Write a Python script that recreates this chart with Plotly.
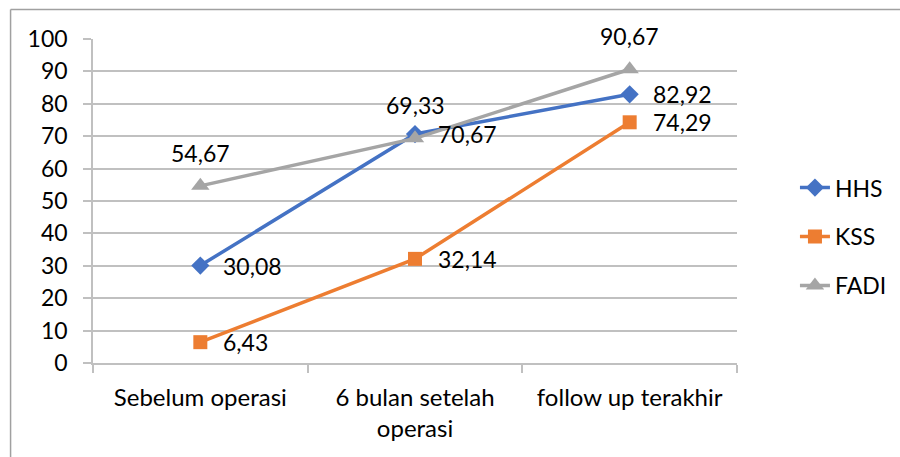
import plotly.graph_objects as go

categories = ["Sebelum operasi", "6 bulan setelah<br>operasi", "follow up terakhir"]
hhs = [30.08, 70.67, 82.92]
kss = [6.43, 32.14, 74.29]
fadi = [54.67, 69.33, 90.67]
hhs_labels = ["30,08", "70,67", "82,92"]
kss_labels = ["6,43", "32,14", "74,29"]
fadi_labels = ["54,67", "69,33", "90,67"]
y_ticks = [0, 10, 20, 30, 40, 50, 60, 70, 80, 90, 100]

FONT = "Lato"
BLUE = "#4472C4"
ORANGE = "#ED7D31"
GREY = "#A5A5A5"
GRID = "#C0C0C0"

fig = go.Figure()
series = [
    ("HHS", hhs, BLUE, "diamond", 14),
    ("KSS", kss, ORANGE, "square", 14),
    ("FADI", fadi, GREY, "triangle-up", 16),
]
for name, vals, color, sym, size in series:
    fig.add_trace(go.Scatter(
        x=categories, y=vals, name=name, mode="lines+markers",
        line=dict(color=color, width=3.5),
        marker=dict(symbol=sym, size=size, color=color),
        legendgroup=name,
    ))

annotations = []
for labels, vals in ((hhs_labels, hhs), (kss_labels, kss)):
    for c, v, t in zip(categories, vals, labels):
        annotations.append(dict(x=c, y=v, text=t, showarrow=False,
                                xanchor="left", yanchor="middle", xshift=21,
                                font=dict(family=FONT, size=23, color="#000")))
for c, v, t in zip(categories, fadi, fadi_labels):
    annotations.append(dict(x=c, y=v, text=t, showarrow=False,
                            xanchor="center", yanchor="middle", yshift=33,
                            font=dict(family=FONT, size=23, color="#000")))

fig.update_layout(
    width=900, height=457,
    margin=dict(l=93, r=163, t=39, b=94, autoexpand=False),
    paper_bgcolor="white", plot_bgcolor="white",
    font=dict(family=FONT, size=23, color="#000"),
    showlegend=True,
    legend=dict(x=1.09, y=0.39, xanchor="left", yanchor="middle",
                font=dict(family=FONT, size=23), tracegroupgap=16,
                bgcolor="rgba(0,0,0,0)"),
    annotations=annotations,
    xaxis=dict(type="category", range=[-0.5, 2.5], showgrid=False,
               showline=True, linecolor=GRID, linewidth=1.5,
               ticks="outside", tickson="boundaries", ticklen=8,
               tickcolor=GRID, tickwidth=1.5, tickfont=dict(size=24),
               ticklabelstandoff=12, fixedrange=True),
    yaxis=dict(range=[0, 100], tickvals=y_ticks, showgrid=True,
               gridcolor=GRID, gridwidth=1.5, zeroline=False,
               showline=True, linecolor=GRID, linewidth=1.5,
               ticks="outside", ticklen=8, tickcolor=GRID, tickwidth=1.5,
               tickfont=dict(size=23), ticklabelstandoff=11),
    shapes=[
        dict(type="line", xref="paper", yref="paper",
             x0=-0.128, x1=1.3, y0=1.091, y1=1.091,
             line=dict(color="#A0A0A0", width=1.5)),
        dict(type="line", xref="paper", yref="paper",
             x0=-0.128, x1=-0.128, y0=1.091, y1=-0.4,
             line=dict(color="#A0A0A0", width=1.5)),
    ],
)

fig.write_html("out.html")
